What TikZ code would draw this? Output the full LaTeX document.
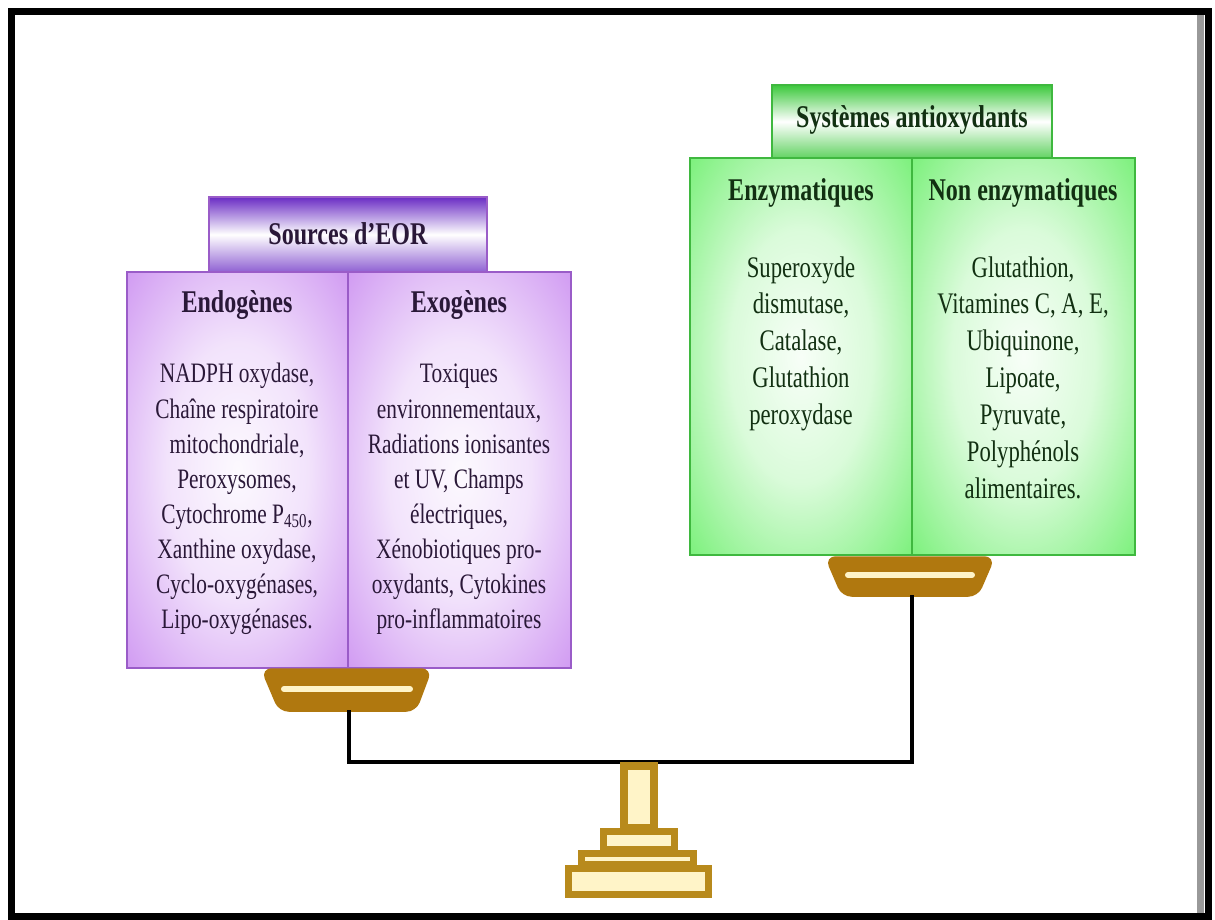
\documentclass[tikz,border=0pt]{standalone}
\usepackage{fontspec}
\setmainfont[FakeStretch=0.76]{Liberation Serif}

\definecolor{purpbody}{HTML}{C98AF0}
\definecolor{purpedge}{HTML}{9A5CC8}
\definecolor{purphead}{HTML}{6A2CC4}
\definecolor{purptxt}{HTML}{2A1838}
\definecolor{greenbody}{HTML}{66EE66}
\definecolor{greenedge}{HTML}{3FB83F}
\definecolor{greenhead}{HTML}{3CC83C}
\definecolor{greentxt}{HTML}{123012}
\definecolor{panbrown}{HTML}{B0780F}
\definecolor{cream}{HTML}{FFF4C8}
\definecolor{standgold}{HTML}{B88A1C}

\pgfdeclareradialshading{purpglow}{\pgfpoint{0bp}{0bp}}{color(0bp)=(white!95!purpbody); color(16bp)=(white!76!purpbody); color(40bp)=(purpbody); color(50bp)=(purpbody)}
\pgfdeclareradialshading{greenglow}{\pgfpoint{0bp}{0bp}}{color(0bp)=(white!95!greenbody); color(16bp)=(white!76!greenbody); color(40bp)=(greenbody); color(50bp)=(greenbody)}

\tikzset{
  hdr/.style={font=\fontsize{18}{22}\selectfont\bfseries, inner sep=0pt},
  coltitle/.style={font=\fontsize{18}{22}\selectfont\bfseries, inner sep=0pt},
  bodytxt/.style={font=\fontsize{16}{20}\selectfont, align=center, inner sep=0pt, anchor=north},
  bodytxtR/.style={font=\fontsize{17}{21}\selectfont, align=center, inner sep=0pt, anchor=north},
  pan/.style={fill=panbrown, draw=panbrown, line width=2pt, rounded corners=5pt},
  slit/.style={draw=cream, line width=3.4pt, line cap=round},
  beam/.style={draw=black, line width=2.8pt},
  stand/.style={draw=standgold, fill=cream, line width=4pt},
}

\begin{document}
\begin{tikzpicture}[x=0.02cm,y=-0.02cm]
\useasboundingbox (0,0) rectangle (1215,920);

\draw[line width=4pt] (11.5,11.5) rectangle (1208.5,916.5);
\draw[gray!80, line width=4pt] (1200.5,15) -- (1200.5,913);

\shade[top color=purphead, bottom color=purphead!75!white, middle color=white] (209,197) rectangle (487,272);
\draw[purpedge, line width=0.6pt] (209,197) rectangle (487,272);
\shade[shading=purpglow] (127,272) rectangle (348,668);
\shade[shading=purpglow] (348,272) rectangle (571,668);
\draw[purpedge, line width=0.6pt] (127,272) rectangle (571,668);
\draw[purpedge, line width=0.6pt] (348,272) -- (348,668);

\shade[top color=greenhead, bottom color=greenhead!80!white, middle color=white] (772,85) rectangle (1052,158);
\draw[greenedge, line width=0.6pt] (772,85) rectangle (1052,158);
\shade[shading=greenglow] (690,158) rectangle (912,555);
\shade[shading=greenglow] (912,158) rectangle (1135,555);
\draw[greenedge, line width=0.6pt] (690,158) rectangle (1135,555);
\draw[greenedge, line width=0.6pt] (912,158) -- (912,555);

\node[hdr, text=purptxt] (eor) at (348,234) {Sources d’EOR};
\node[coltitle, text=purptxt] (endoT) at (237,305) {Endogènes};
\node[coltitle, text=purptxt] (exoT) at (459,305) {Exogènes};
\node[bodytxt, text=purptxt] (endo) at (237,363) {NADPH oxydase,\\ Chaîne respiratoire\\ mitochondriale,\\ Peroxysomes,\\ Cytochrome P\textsubscript{450},\\ Xanthine oxydase,\\ Cyclo-oxygénases,\\ Lipo-oxygénases.};
\node[bodytxt, text=purptxt] (exo) at (459,364) {Toxiques\\ environnementaux,\\ Radiations ionisantes\\ et UV, Champs\\ électriques,\\ Xénobiotiques pro-\\ oxydants, Cytokines\\ pro-inflammatoires};

\node[hdr, text=greentxt] (antiox) at (912,120) {Systèmes antioxydants};
\node[coltitle, text=greentxt] (enzT) at (801,193) {Enzymatiques};
\node[coltitle, text=greentxt] (nonT) at (1023,193) {Non enzymatiques};
\node[bodytxtR, text=greentxt] (enz) at (801,256) {Superoxyde\\ dismutase,\\ Catalase,\\ Glutathion\\ peroxydase};
\node[bodytxtR, text=greentxt] (non) at (1023,256) {Glutathion,\\ Vitamines C, A, E,\\ Ubiquinone,\\ Lipoate,\\ Pyruvate,\\ Polyphénols\\ alimentaires.};

\draw[pan] (263,670) -- (430,670) -- (415,710) -- (280,710) -- cycle;
\draw[slit] (284,689) -- (410,689);
\coordinate (lpan) at (349,710);

\draw[pan] (827,558) -- (993,558) -- (977,595) -- (843,595) -- cycle;
\draw[slit] (848,575) -- (972,575);
\coordinate (rpan) at (912,595);

\coordinate (pivot) at (639,762);
\draw[beam] (lpan) -- (lpan |- pivot) -- (rpan |- pivot) -- (rpan);

\draw[stand] (568.5,868.5) rectangle (708.5,894.5);
\draw[stand] (581.5,853.5) rectangle (693.5,864.5);
\draw[stand] (603.5,831.5) rectangle (674.5,849.5);
\draw[stand] (624,766) rectangle (654,828);
\end{tikzpicture}
\end{document}
